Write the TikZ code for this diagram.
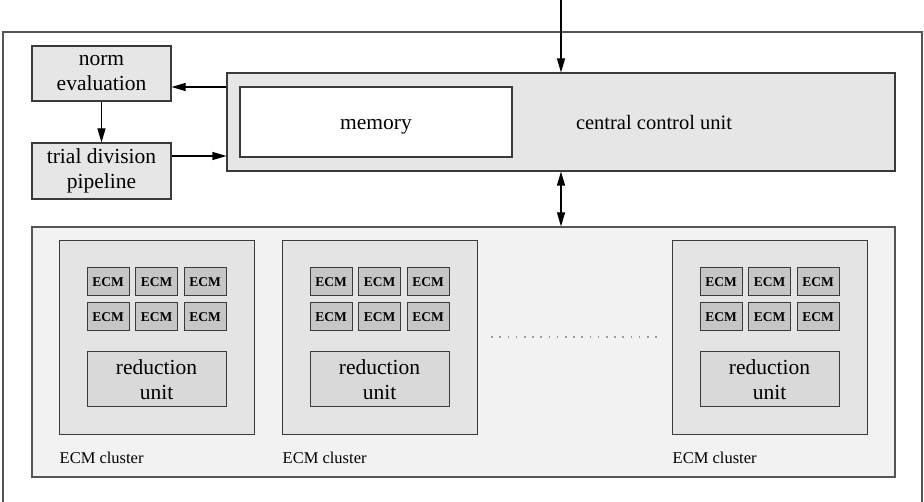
\documentclass[tikz,border=0pt]{standalone}
\usepackage{fontspec}
\setmainfont{Liberation Serif}
\usetikzlibrary{arrows.meta}
\definecolor{boxfill}{HTML}{E6E6E6}
\definecolor{lowfill}{HTML}{F2F2F2}
\definecolor{clfill}{HTML}{E4E4E4}
\definecolor{cellfill}{HTML}{C6C6C6}
\definecolor{redfill}{HTML}{D9D9D9}
\definecolor{edge}{HTML}{3A3A3A}
\definecolor{frame}{HTML}{555555}
\tikzset{
  blk/.style={draw=edge, line width=1.1pt, inner sep=0pt, align=center,
    font=\fontsize{21.5}{25}\selectfont},
  mainbox/.style={blk, fill=boxfill},
  cellbox/.style={draw=edge, line width=1pt, fill=cellfill, minimum width=42pt,
    minimum height=28pt, inner sep=0pt, font=\fontsize{13.5}{15}\selectfont\bfseries},
  clbox/.style={draw=edge, line width=1pt, fill=clfill, minimum width=195pt,
    minimum height=194pt, inner sep=0pt},
  redbox/.style={blk, line width=1pt, fill=redfill, minimum width=139pt, minimum height=55pt},
  lbl/.style={inner sep=0pt, anchor=west, font=\fontsize{16.5}{18}\selectfont},
  tip/.tip={Triangle[length=14pt,width=8pt]},
  arr/.style={line width=1.1pt, -tip},
  darr/.style={line width=1.1pt, tip-tip},
  dot/.style={fill=gray!80, inner sep=0pt, minimum size=1.6pt, draw=none}
}
\begin{document}
\begin{tikzpicture}[x=1pt,y=-1pt]
\useasboundingbox (0,0) rectangle (924,502);
% outer frame
\draw[frame, line width=1.2pt] (3,510) -- (3,32) -- (922,32) -- (922,510);
% top blocks
\node[mainbox, minimum width=139pt, minimum height=55pt] (norm) at (101.5,73.5) {norm\\evaluation};
\node[mainbox, minimum width=139pt, minimum height=56pt] (trial) at (101.5,171) {trial division\\pipeline};
\node[mainbox, minimum width=668pt, minimum height=98pt] (ccu) at (561,122) {};
\node[draw=edge, line width=1.1pt, inner sep=0pt, fill=white, minimum width=272pt, minimum height=70pt,
  text height=20pt, text depth=4pt, font=\fontsize{21.5}{25}\selectfont] (mem) at (376,122) {memory};
\node[inner sep=0pt, text height=20pt, text depth=4pt, font=\fontsize{20.5}{24}\selectfont] (ccutxt) at (654,122) {central control unit};
% lower area
\node[draw=frame, line width=1.2pt, fill=lowfill, minimum width=863pt, minimum height=250pt, inner sep=0pt] (low) at (463.5,352) {};
% connectors
\coordinate (topin) at (561,0);
\draw[arr] (topin) -- (ccu.north);
\draw[arr] (ccu.west |- 0,87) -- (norm.east |- 0,87);
\draw[arr] (norm.south) -- (trial.north);
\draw[arr] (trial.east |- 0,156) -- (ccu.west |- 0,156);
\draw[darr] (ccu.south) -- (ccu.south |- low.north);
% clusters
\foreach \i/\cx in {1/156.5, 2/379.5, 3/769.5}{
  \node[clbox] (cl\i) at (\cx,338) {};
  \foreach \j/\dx in {1/-48.5, 2/0, 3/48.5}{
    \node[cellbox] (e\i a\j) at (\cx+\dx,282) {ECM};
    \node[cellbox] (e\i b\j) at (\cx+\dx,317) {ECM};
  }
  \node[redbox] (red\i) at (\cx,379.5) {reduction\\unit};
  \node[lbl] (lab\i) at (\cx-97,458) {ECM cluster};
}
% dots
\foreach \k in {0,...,20}{
  \node[dot] (d\k) at (492+8.2*\k,337) {};
}
\end{tikzpicture}
\end{document}
